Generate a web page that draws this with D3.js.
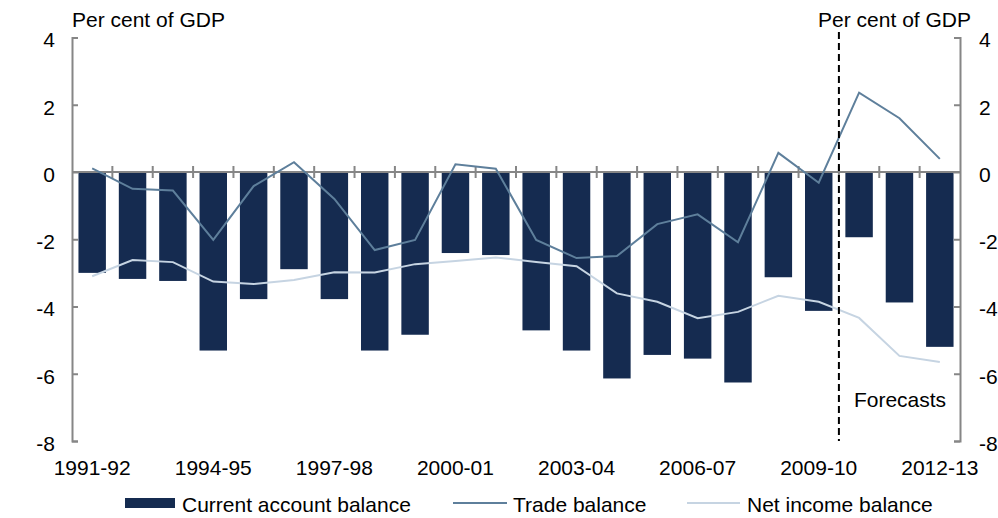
<!DOCTYPE html>
<html>
<head>
<meta charset="utf-8">
<script src="https://cdn.jsdelivr.net/npm/d3@7"></script>
<style>
  body { margin: 0; background: #fff; }
  svg text { font-family: "Liberation Sans", Arial, sans-serif; font-size: 21px; fill: #000; }
</style>
</head>
<body>
<div id="chart"></div>
<script>
const years = ["1991-92","1992-93","1993-94","1994-95","1995-96","1996-97","1997-98","1998-99",
  "1999-00","2000-01","2001-02","2002-03","2003-04","2004-05","2005-06","2006-07","2007-08",
  "2008-09","2009-10","2010-11","2011-12","2012-13"];
const currentAccount = [-3.0,-3.18,-3.24,-5.31,-3.78,-2.89,-3.78,-5.31,-4.84,-2.41,-2.47,
  -4.71,-5.31,-6.14,-5.44,-5.55,-6.26,-3.13,-4.13,-1.94,-3.88,-5.2];
const tradeBalance = [0.11,-0.5,-0.55,-2.02,-0.42,0.29,-0.8,-2.32,-2.02,0.23,0.1,
  -2.02,-2.56,-2.5,-1.55,-1.26,-2.09,0.57,-0.32,2.36,1.6,0.39];
const netIncome = [-3.1,-2.62,-2.68,-3.26,-3.33,-3.21,-2.98,-2.99,-2.74,-2.65,-2.54,
  -2.68,-2.8,-3.61,-3.86,-4.35,-4.16,-3.68,-3.86,-4.34,-5.47,-5.65];
const yTicks = [-8,-6,-4,-2,0,2,4];
const xLabels = ["1991-92","1994-95","1997-98","2000-01","2003-04","2006-07","2009-10","2012-13"];
const forecastStart = "2010-11";

const width = 998, height = 518;
const plotLeft = 72, plotRight = 960, plotTop = 37.5, plotBottom = 441;
const axisGrey = "#868686";

const svg = d3.select("#chart").append("svg")
  .attr("width", width).attr("height", height);

const x = d3.scaleBand().domain(years).range([plotLeft, plotRight])
  .paddingInner(0.32).paddingOuter(0.16);
const step = x.step();
const xCenter = d => x(d) + x.bandwidth() / 2;
const y = d3.scaleLinear().domain([-8, 4]).range([plotBottom, plotTop]);

// bars
svg.append("g").selectAll("rect")
  .data(years)
  .join("rect")
    .attr("x", d => x(d))
    .attr("width", x.bandwidth())
    .attr("y", y(0))
    .attr("height", (d, i) => y(currentAccount[i]) - y(0))
    .attr("fill", "#152b50");

// zero line with category-boundary ticks
const zero = svg.append("g");
zero.append("line")
  .attr("x1", plotLeft).attr("x2", plotRight)
  .attr("y1", y(0)).attr("y2", y(0))
  .attr("stroke", axisGrey).attr("stroke-width", 2);
zero.selectAll("line.tk")
  .data(years.slice(1))
  .join("line")
    .attr("class", "tk")
    .attr("x1", d => x(d) - step * 0.16).attr("x2", d => x(d) - step * 0.16)
    .attr("y1", y(0) - 6).attr("y2", y(0) + 6)
    .attr("stroke", axisGrey).attr("stroke-width", 2);

// lines
const line = vals => d3.line()
  .x((d, i) => xCenter(years[i]))
  .y(d => y(d))(vals);

svg.append("path").attr("d", line(netIncome))
  .attr("fill", "none").attr("stroke", "#c6d4e2").attr("stroke-width", 2);
svg.append("path").attr("d", line(tradeBalance))
  .attr("fill", "none").attr("stroke", "#5e7f9b").attr("stroke-width", 2);

// y axes (plain hyphen for negatives, like the original)
const styleAxis = g => {
  g.select(".domain").attr("stroke", axisGrey).attr("stroke-width", 2);
  g.selectAll(".tick line").attr("stroke", axisGrey).attr("stroke-width", 2);
  g.selectAll(".tick text").attr("dy", "0.45em")
    .style("font-family", "'Liberation Sans', Arial, sans-serif").style("font-size", "21px").attr("fill", "#000");
};
const fmt = d => String(d);
svg.append("g")
  .attr("transform", `translate(${plotLeft},0)`)
  .call(d3.axisLeft(y).tickValues(yTicks).tickSize(-6).tickPadding(17).tickFormat(fmt))
  .call(styleAxis);
svg.append("g")
  .attr("transform", `translate(${plotRight},0)`)
  .call(d3.axisRight(y).tickValues(yTicks).tickSize(-6).tickPadding(19).tickFormat(fmt))
  .call(styleAxis);

// x labels
svg.append("g").selectAll("text")
  .data(xLabels)
  .join("text")
    .attr("x", d => xCenter(d))
    .attr("y", 475)
    .attr("text-anchor", "middle")
    .text(d => d);

// forecast divider
const fx = x(forecastStart) - step * 0.16;
svg.append("line")
  .attr("x1", fx).attr("x2", fx)
  .attr("y1", 32).attr("y2", plotBottom)
  .attr("stroke", "#000").attr("stroke-width", 2)
  .attr("stroke-dasharray", "7,4");
svg.append("text").attr("x", fx + 15).attr("y", 407).text("Forecasts");

// unit titles
svg.append("text").attr("x", plotLeft).attr("y", 27).text("Per cent of GDP");
svg.append("text").attr("x", 971).attr("y", 27).attr("text-anchor", "end").text("Per cent of GDP");

// legend
const legend = svg.append("g");
legend.append("rect").attr("x", 125).attr("y", 498).attr("width", 50).attr("height", 10).attr("fill", "#152b50");
legend.append("text").attr("x", 182).attr("y", 512).text("Current account balance");
legend.append("line").attr("x1", 453).attr("x2", 507).attr("y1", 503).attr("y2", 503)
  .attr("stroke", "#5e7f9b").attr("stroke-width", 2);
legend.append("text").attr("x", 513).attr("y", 512).text("Trade balance");
legend.append("line").attr("x1", 687).attr("x2", 740).attr("y1", 503).attr("y2", 503)
  .attr("stroke", "#c6d4e2").attr("stroke-width", 2);
legend.append("text").attr("x", 747).attr("y", 512).text("Net income balance");
</script>
</body>
</html>
